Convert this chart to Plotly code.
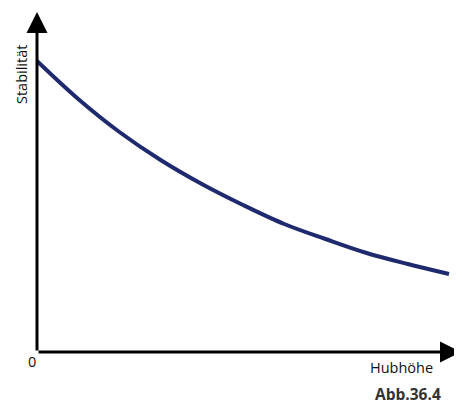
import plotly.graph_objects as go

# curve (arbitrary units)
hubhoehe = [0, 1, 2, 3, 4, 5, 6, 7, 8, 9, 10]
stabilitaet = [2.91, 2.53, 2.20, 1.92, 1.68, 1.47, 1.28, 1.13, 0.99, 0.88, 0.78]

# the page body has an 8px margin, so the figure is shrunk by that much
W, H = 454, 396
L, R, T, B = 29, 0, 4, 52

plot_w = W - L - R
plot_h = H - T - B

fig = go.Figure()
fig.add_trace(go.Scatter(
    x=hubhoehe, y=stabilitaet, mode='lines',
    line=dict(color='#1f2a6e', width=4, shape='spline', smoothing=1),
    hoverinfo='skip',
))

fig.update_xaxes(visible=False, range=[0, 10 * plot_w / 412])
fig.update_yaxes(visible=False, range=[0, plot_h / 100])

font = dict(family='Open Sans', size=14.5, color='#111')


def label(text, dx, dy, **kw):
    # dx, dy: pixel offsets from the axes origin (dy positive = up)
    return dict(x=dx / plot_w, y=dy / plot_h, xref='paper', yref='paper',
                xanchor='center', yanchor='middle', text=text,
                showarrow=False, **kw)


fig.update_layout(
    width=W, height=H,
    margin=dict(l=L, r=R, t=T, b=B),
    paper_bgcolor='white', plot_bgcolor='white',
    showlegend=False,
    annotations=[
        # y axis with arrow
        dict(x=0, y=1, xref='paper', yref='paper', ax=0, ay=plot_h,
             showarrow=True, arrowhead=2, arrowsize=1.4, arrowwidth=3,
             arrowcolor='black', text=''),
        # x axis with arrow
        dict(x=1, y=0, xref='paper', yref='paper', ax=-plot_w, ay=0,
             showarrow=True, arrowhead=2, arrowsize=1.4, arrowwidth=3,
             arrowcolor='black', text=''),
        label('Stabilität', -16, 352 - 75, textangle=-90, font=font),
        label('0', -5, -10, font=font),
        label('Hubhöhe', 401 - 37, -15, font=font),
        label('<b>Abb.36.4</b>', 408 - 37, -42,
              font=dict(family='Open Sans', size=15.5, color='#333')),
    ],
)

fig.write_html("out.html")
